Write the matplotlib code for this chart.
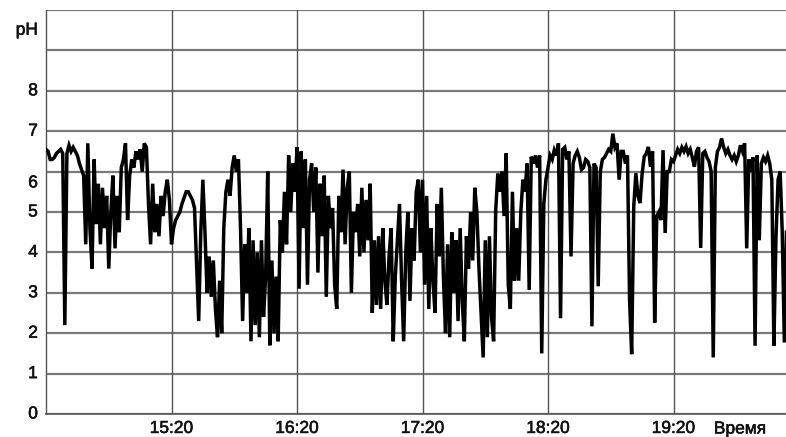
import matplotlib
matplotlib.use("Agg")
import matplotlib.pyplot as plt
import matplotlib.patheffects as pe
import numpy as np

plt.rcParams['font.family'] = ['Liberation Sans', 'DejaVu Sans']

# ---- data ----
start_label = "14:20"          # time at the left edge
sample_minutes = 1.0           # one reading per minute
ph = [
    # 14:20 - 15:33
    6.55, 6.5, 6.3, 6.3, 6.35, 6.45, 6.5, 6.55, 6.45, 2.2,
    6.45, 6.65, 6.5, 6.6, 6.5, 6.4, 6.2, 6.05, 5.9, 4.2,
    6.7, 4.6, 3.6, 6.3, 4.7, 5.7, 4.2, 5.6, 4.6, 5.4,
    3.6, 5.0, 5.9, 4.1, 5.4, 4.5, 6.1, 6.3, 6.7, 4.8,
    5.9, 6.3, 6.1, 6.5, 6.3, 6.55, 6.0, 6.7, 6.6, 5.2,
    4.2, 5.7, 4.5, 5.2, 4.4, 5.4, 4.9, 5.5, 5.8, 5.3,
    4.2, 4.6, 4.8, 4.9, 5.0, 5.2, 5.35, 5.5, 5.5, 5.4,
    5.3, 5.1, 3.7, 2.3,
    # 15:34 - 16:35
    4.5, 5.8, 4.5, 3.0, 3.9, 2.9, 3.8, 2.6, 1.9, 3.3,
    2.0, 4.6, 5.5, 5.8, 5.4, 6.1, 6.4, 6.0, 6.3, 4.6,
    2.3, 4.2, 3.0, 4.6, 1.8, 4.3, 2.2, 4.0, 1.9, 4.3,
    2.4, 3.4, 6.0, 1.7, 3.8, 2.0, 3.4, 1.8, 4.8, 4.0,
    5.5, 4.2, 6.4, 5.0, 6.2, 5.5, 6.6, 3.1, 6.5, 4.6,
    6.3, 3.2, 5.8, 6.2, 5.0, 6.1, 3.5, 5.7, 4.4, 5.9,
    2.9, 5.4,
    # 16:36 - 17:47
    4.6, 5.1, 3.2, 2.6, 5.4, 4.5, 6.05, 4.2, 5.6, 6.0,
    3.0, 5.0, 4.5, 5.2, 3.9, 5.6, 4.0, 5.3, 4.3, 5.7,
    2.5, 4.3, 2.7, 4.4, 2.6, 4.6, 3.3, 2.7, 3.9, 4.6,
    1.8, 3.4, 4.3, 5.2, 3.3, 1.8, 4.0, 5.0, 2.8, 4.6,
    3.8, 5.5, 5.8, 4.0, 5.8, 3.2, 5.4, 2.6, 4.6, 3.3,
    2.5, 5.2, 3.9, 5.6, 3.4, 2.0, 4.2, 1.9, 4.5, 3.0,
    4.3, 2.3, 4.6, 2.8, 1.8, 4.4, 3.6, 5.0, 3.8, 5.6,
    5.0, 3.6,
    # 17:48 - 18:54
    2.5, 1.4, 4.3, 1.9, 4.4, 2.4, 1.8, 5.05, 5.95, 5.5,
    6.0, 4.9, 6.45, 3.2, 2.6, 5.5, 3.3, 4.6, 3.3, 5.0,
    5.8, 5.5, 6.2, 3.07, 6.37, 6.2, 6.4, 6.1, 6.4, 1.5,
    5.2, 5.8, 6.1, 6.4, 6.3, 6.53, 6.4, 6.7, 2.37, 6.55,
    6.6, 6.3, 6.5, 3.9, 6.2, 6.4, 6.5, 6.35, 6.05, 6.1,
    6.3, 6.25, 6.1, 2.17, 6.2, 6.1, 3.16, 6.0, 6.3, 6.35,
    6.45, 6.55, 6.5, 6.94, 6.6, 6.7, 5.8,
    # 18:55 - 20:14
    6.5, 6.5, 6.2, 6.4, 2.8, 1.48, 5.14, 5.96, 5.4, 5.22,
    5.95, 6.37, 6.45, 6.61, 6.12, 6.5, 2.26, 4.9, 5.0, 4.8,
    6.53, 4.48, 6.0, 6.0, 6.3, 6.25, 6.4, 6.55, 6.45, 6.6,
    6.5, 6.62, 6.45, 6.55, 6.35, 6.12, 6.5, 6.6, 4.11, 6.45,
    6.5, 6.35, 6.25, 6.0, 1.4, 6.1, 6.5, 6.6, 6.82, 6.6,
    6.45, 6.55, 6.4, 6.3, 6.4, 6.25, 6.4, 6.65, 6.5, 6.7,
    4.1, 6.3, 6.0, 6.35, 1.69, 6.4, 4.3, 6.2, 6.35, 6.25,
    6.4, 6.2, 5.8, 1.69, 4.4, 5.8, 6.0, 4.48, 1.77, 4.5,
]
x_tick_labels = ["15:20", "16:20", "17:20", "18:20", "19:20"]
y_tick_values = [0, 1, 2, 3, 4, 5, 6, 7, 8]
y_label = "pH"
x_label = "Время"

# ---- figure ----
W, H, DPI = 786, 437, 100
fig = plt.figure(figsize=(W / DPI, H / DPI), dpi=DPI)
ax = fig.add_axes([46 / W, (H - 414) / H, 740 / W, 404 / H])

t = np.arange(len(ph)) * sample_minutes
px_per_min = 125.5 / 60
x_end = 740 / px_per_min  # minutes shown

ax.set_xlim(0, x_end)
ax.set_ylim(0, 10)

FS = 12.5
bold_fx = [pe.withStroke(linewidth=0.4, foreground='#111111')]

# grid
for v in range(0, 11):
    ax.axhline(v, color='#7a7a7a', lw=1.6, zorder=1)
tick_pos = [60 * (k + 1) for k in range(len(x_tick_labels))]
for p in tick_pos:
    ax.axvline(p, color='#555555', lw=1.0, zorder=1)

ax.plot(t, ph, color='black', lw=2.5, solid_joinstyle='miter', zorder=3)

for s in ['top', 'right']:
    ax.spines[s].set_visible(False)
ax.spines['left'].set_color('#555555')
ax.spines['bottom'].set_color('#555555')
ax.spines['left'].set_linewidth(1.0)
ax.spines['bottom'].set_linewidth(1.2)

ax.set_xticks(tick_pos)
ax.set_xticklabels(x_tick_labels, fontsize=FS, color='#111111')
for lbl in ax.get_xticklabels():
    lbl.set_path_effects(bold_fx)
ax.set_yticks([])
ax.tick_params(axis='x', length=0, pad=5)

for v in y_tick_values:
    yy = v if v != 6 else v - 0.28
    ax.text(-0.011, yy, str(v), transform=ax.get_yaxis_transform(),
            ha='right', va='center', fontsize=FS, color='#111111',
            path_effects=bold_fx)
ax.text(-0.011, 9.5, y_label, transform=ax.get_yaxis_transform(),
        ha='right', va='center', fontsize=FS, color='#111111',
        path_effects=bold_fx)
ax.text((740 - 46) / px_per_min, -15 / 40.4, x_label, transform=ax.transData,
        ha='center', va='center', fontsize=FS, color='#111111',
        path_effects=bold_fx)

fig.savefig("out.png", dpi=DPI)
